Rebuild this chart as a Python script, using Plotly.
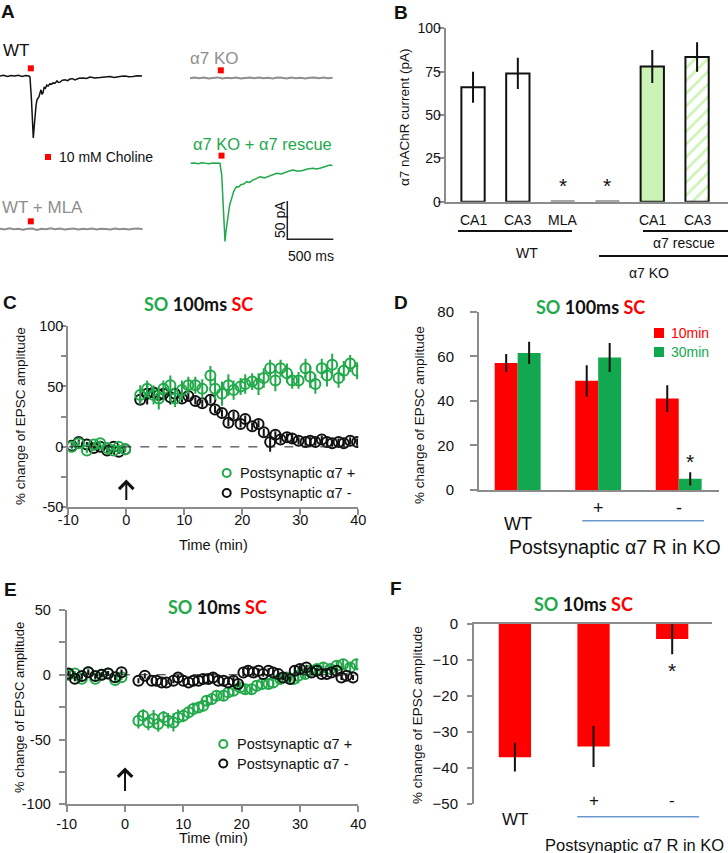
import plotly.graph_objects as go

W, H = 728, 853
def PX(x): return x / W
def PY(y): return 1 - y / H

SANS = "Liberation Sans, Arial, sans-serif"
TFONT = "Lato, 'Open Sans', sans-serif"
BLACK = "#111111"
AX = "#8c8c8c"
TRACE_GRAY = "#8e8e8e"
GREEN_A = "#22a84a"
GREEN_C = "#22aa4a"
GREEN_D = "#12a84f"
RED = "#ff0000"
LIGHT_GREEN = "#ccf3b6"
BLUE_LINE = "#6a98cc"

# ---------------- Panel A : current traces (ms, pA) ----------------
WT_T = [0, 40, 80, 120, 160, 200, 240, 280, 315, 326, 342, 362, 372, 380, 392, 402, 412, 424,
        435, 446, 456, 467, 480, 494, 508, 522, 544, 560, 576, 598, 620, 636, 652, 680, 707, 734,
        761, 788, 815, 858, 902, 940, 978, 1030, 1087, 1140, 1196, 1240, 1272, 1320, 1359, 1400,
        1446, 1490, 1544]
WT_I = [0, 1, -0.5, 0.5, 0, 1, -0.5, 0.5, 0, -1.5, -31, -81, -66, -51, -38, -31, -29, -27,
        -22, -18, -24, -22, -15, -16, -12, -13, -10, -11, -9, -9.5, -6.5, -8.5, -8, -5.5, -5, -6,
        -4, -3.5, -5, -3, -2.6, -3.2, -1.3, -2.5, -2, -1.2, -0.7, -1.8, -0.9, -0.3, 0, -1,
        -0.7, 0.3, 0]
RESCUE_T = [0, 40, 80, 120, 160, 200, 240, 280, 318, 337, 353, 373, 382, 391, 400, 409, 417, 424,
            435, 446, 456, 467, 483, 500, 522, 544, 576, 609, 640, 674, 714, 753, 800, 848, 890, 935,
            985, 1033, 1070, 1112, 1165, 1217, 1270, 1329, 1370, 1413, 1460, 1514, 1540]
RESCUE_I = [0, 0.5, -0.5, 0.8, 0, -0.6, 0.4, -0.3, 0, -15, -48, -102, -90, -81, -72, -65, -60, -54,
            -50, -44, -40, -37, -33, -30.5, -31, -28, -27, -24, -25, -22, -20, -17.5, -19, -16.6, -15, -13,
            -14, -11.4, -10, -8.7, -10.5, -9.4, -7.5, -6.5, -7.5, -6.1, -4, -2.2, -3]
FLAT_T = [0, 50, 100, 150, 200, 250, 300, 350, 400, 450, 500, 550, 600, 650, 700, 750,
          800, 850, 900, 950, 1000, 1050, 1100, 1150, 1200, 1250, 1300, 1350, 1400, 1450, 1500, 1550]
MLA_I = [0.5, -0.5, 0.8, -0.3, 0.4, -0.8, 0.3, 0.6, -1.2, 0.2, -0.4, 0.9, -0.2, 0.5, -0.7, 0.3,
         0.6, -0.5, 0.2, -0.3, 0.7, -0.6, 0.4, 0.1, -0.5, 0.6, -0.2, 0.4, -0.6, 0.3, 0.5, -0.4]
KO_I = [-0.4, 0.6, -0.2, 0.5, -0.6, 0.3, 0.8, -0.5, 0.4, -0.3, 0.6, -0.7, 0.2, 0.5, -0.4, 0.7,
        -0.3, 0.4, -0.6, 0.5, 0.2, -0.5, 0.6, -0.2, 0.4, -0.7, 0.3, 0.5, -0.4, 0.6, -0.3, 0.2]
STIM_MS = 335
STIM_OFFSET_PA = 10
SCALE_MS = 500
SCALE_PA = 50

# ---------------- Panel B ----------------
B_CATS = ["CA1", "CA3", "MLA", "", "CA1", "CA3"]
B_VALUES = [66, 74, 0.6, 0.6, 78, 83.5]
B_ERR = [9, 9, 0, 0, 9.5, 8.5]

# ---------------- Panel C (100 ms) ----------------
C_BASE_T = [-9.4, -8.2, -6.8, -5.6, -4.5, -3.3, -2.2, -1.3, -0.2]
C_POS_BASE = [0, 3, -3, 2, 3, -1, -3, 0, -2]
C_NEG_BASE = [1, 4, 2, -1, 0, -3, 0, -4, -2]
C_POST_T = [2.4, 3.6, 4.7, 5.6, 6.4, 7.6, 8.4, 9.6, 10.7, 11.9, 13.1, 14.5, 15.3, 16.5, 17.6, 18.5,
            19.7, 20.5, 21.7, 22.8, 23.7, 24.8, 25.7, 26.6, 27.7, 28.6, 29.7, 30.9, 31.7, 32.6,
            33.7, 34.6, 35.5, 36.6, 37.5, 38.6, 39.8]
C_POS_POST = [43, 48, 43, 40, 48, 51, 40, 47, 51, 51, 48, 59, 48, 44, 51, 47, 50, 52, 54, 52,
              57, 65, 55, 65, 61, 55, 55, 65, 58, 52, 65, 59, 68, 57, 63, 69, 63]
C_POS_ERR = [8, 7, 8, 9, 7, 8, 7, 8, 7, 7, 8, 8, 9, 10, 9, 8, 7, 8, 7, 9, 8, 7, 9, 7, 8, 7, 7,
             8, 9, 8, 8, 9, 9, 8, 8, 7, 7]
C_NEG_POST = [39, 44, 45, 43, 44, 41, 44, 40, 42, 38, 36, 39, 31, 28, 20, 26, 19, 23, 17, 19,
              12, 4, 10, 6, 8, 7, 5, 4, 5, 4, 6, 4, 3, 4, 3, 5, 4]
C_NEG_ERR = [3, 9, 3, 3, 3, 6, 3, 3, 3, 3, 3, 3, 3, 3, 3, 3, 3, 3, 3, 3, 3, 8, 3, 3, 3, 4, 3,
             3, 3, 3, 3, 3, 3, 3, 3, 3, 3]

# ---------------- Panel D ----------------
D_GROUPS = ["WT", "+", "-"]
D_10 = [57, 49, 41]
D_10_ERR = [4, 7, 6]
D_30 = [61.5, 59.5, 5]
D_30_ERR = [5, 6.5, 3]

# ---------------- Panel E (10 ms) ----------------
E_BASE_T = [-9.7, -8.6, -7.4, -6.3, -5.1, -4.0, -2.9, -1.7, -0.6]
E_POS_BASE = [0, 1, -3, 2, -3, 0, 1, -4, -2]
E_NEG_BASE = [1, -3, -1, 2, -1, 0, 1, -2, 2]
E_POS_T = [2.3, 3.1, 4.0, 4.9, 5.7, 6.6, 7.4, 8.3, 9.1, 10.0, 10.9, 11.7, 12.6, 13.4, 14.0, 14.9,
           15.7, 16.9, 17.7, 18.6, 19.7, 20.6, 21.7, 22.6, 23.5, 24.6, 25.4, 26.6, 27.7, 28.9,
           29.7, 30.9, 31.7, 32.9, 34.0, 35.2, 36.3, 37.4, 38.6, 39.7]
E_POS_POST = [-35.5, -31.6, -36.8, -34.2, -38, -32.9, -35.5, -36.8, -32.9, -31.6, -29, -26.5,
              -25.2, -23.9, -20, -18.8, -16.2, -16.2, -13.6, -12.3, -9.8, -11.1, -11.1, -8.5,
              -7.2, -7.2, -5.9, -3.3, -2.1, -3.3, -0.8, 0.5, 3.1, 4.4, 5.7, 4.4, 6.9, 8.2, 5.7, 8.2]
E_POS_ERR = [6, 5, 6, 7, 6, 5, 6, 7, 6, 5, 5, 5, 4, 4, 4, 4, 4, 4, 4, 4, 4, 4, 4, 4, 4, 4, 4,
             4, 4, 4, 6, 4, 4, 4, 4, 4, 4, 4, 4, 4]
E_NEG_T = [2.3, 3.4, 4.6, 5.4, 6.3, 7.1, 8.3, 9.1, 10.0, 10.9, 11.7, 12.6, 13.4, 14.3, 15.1,
           16.0, 16.9, 17.7, 18.6, 19.4, 20.3, 21.1, 22.0, 22.9, 23.7, 24.6, 25.4, 26.3, 27.1,
           28.3, 29.1, 30.0, 31.1, 32.0, 32.9, 33.7, 34.6, 35.4, 36.3, 37.1, 38.0, 39.1]
E_NEG_POST = [-4.6, -0.8, -4.6, -4.6, -5.9, -5.9, -4.6, -2.1, -4.6, -5.9, -4.6, -4.6, -3.3, -3.3,
              -2.1, -4.6, -4.6, -5.9, -4.6, -7.2, 1.8, 3.1, 1.8, 3.1, 0.5, 3.1, 1.8, 0.5, -2.1,
              -3.3, 3.1, 4.4, 5.7, 1.8, 3.1, 0.5, 0.5, 1.8, 3.1, -2.1, -0.8, -2.1]
E_NEG_ERR = [2, 2, 2, 2, 2, 2, 2, 2, 2, 2, 2, 2, 3, 4, 4, 2, 2, 2, 3, 2, 3, 3, 3, 2, 2, 2, 2,
             2, 2, 2, 3, 3, 2, 2, 2, 2, 2, 2, 2, 2, 2, 2]

# ---------------- Panel F ----------------
F_GROUPS = ["WT", "+", "-"]
F_VALUES = [-37, -34, -4.2]
F_ERR = [4, 5.7, 4.2]

fig = go.Figure()

# ---- Panel A
MSPX = 500 / 46
PAPX = 50 / 38.3
def ax_x(px): return px * MSPX
def ax_y(py): return -py * PAPX

ORIG = {"WT": (0, 76), "MLA": (0, 229), "KO": (190, 78), "RES": (190.7, 163.3)}

def add_trace_a(key, ts, vals, color, width):
    ox, oy = ORIG[key]
    fig.add_trace(go.Scatter(x=[ax_x(ox) + t for t in ts], y=[ax_y(oy) + v for v in vals],
                             mode="lines", line=dict(color=color, width=width),
                             xaxis="x", yaxis="y", hoverinfo="skip"))

add_trace_a("WT", WT_T, WT_I, BLACK, 1.5)
add_trace_a("MLA", FLAT_T, MLA_I, TRACE_GRAY, 2)
add_trace_a("KO", FLAT_T, KO_I, TRACE_GRAY, 2)
add_trace_a("RES", RESCUE_T, RESCUE_I, GREEN_A, 1.5)

stim_x = [ax_x(ORIG[k][0]) + STIM_MS for k in ["WT", "MLA", "KO", "RES"]] + [ax_x(48)]
stim_y = [ax_y(ORIG[k][1]) + STIM_OFFSET_PA for k in ["WT", "MLA", "KO", "RES"]] + [ax_y(157)]
fig.add_trace(go.Scatter(x=stim_x, y=stim_y, mode="markers",
                         marker=dict(symbol="square", size=6, color=RED),
                         xaxis="x", yaxis="y", hoverinfo="skip"))
cx, cy = ax_x(287.3), ax_y(239.3)
fig.add_trace(go.Scatter(x=[cx, cx, cx + SCALE_MS], y=[cy + SCALE_PA, cy, cy], mode="lines",
                         line=dict(color="#222222", width=1.5), xaxis="x", yaxis="y",
                         hoverinfo="skip"))

# ---- Panel B
fills = ["white", "white", "#9a9a9a", "#9a9a9a", LIGHT_GREEN, LIGHT_GREEN]
lcols = [BLACK, BLACK, "#9a9a9a", "#9a9a9a", BLACK, BLACK]
lwid = [2, 2, 1, 1, 2, 2]
shapes_p = ["", "/", "", "", "", "/"]
fgc = [BLACK, "#8a8a8a", BLACK, BLACK, BLACK, "#111111"]
fig.add_trace(go.Bar(x=list(range(len(B_CATS))), y=B_VALUES, width=0.52,
                     marker=dict(color=fills, line=dict(color=lcols, width=lwid),
                                 pattern=dict(shape=shapes_p, fgcolor=fgc, bgcolor=fills,
                                              size=[10, 12, 10, 10, 10, 9],
                                              solidity=[0.2, 0.18, 0.2, 0.2, 0.2, 0.3])),
                     error_y=dict(type="data", array=B_ERR, color=BLACK, thickness=2, width=0),
                     xaxis="x2", yaxis="y2", hoverinfo="skip"))

# ---- Panel C (black first, green on top)
fig.add_trace(go.Scatter(x=C_BASE_T + C_POST_T, y=C_NEG_BASE + C_NEG_POST,
                         error_y=dict(type="data", array=[2] * len(C_BASE_T) + C_NEG_ERR,
                                      color=BLACK, thickness=2, width=0),
                         mode="markers",
                         marker=dict(symbol="circle-open", size=10, color=BLACK, line=dict(width=2)),
                         xaxis="x3", yaxis="y3", hoverinfo="skip"))
fig.add_trace(go.Scatter(x=C_BASE_T + C_POST_T, y=C_POS_BASE + C_POS_POST,
                         error_y=dict(type="data", array=[2] * len(C_BASE_T) + C_POS_ERR,
                                      color=GREEN_C, thickness=2, width=0),
                         mode="markers",
                         marker=dict(symbol="circle-open", size=10, color=GREEN_C, line=dict(width=2)),
                         xaxis="x3", yaxis="y3", hoverinfo="skip"))

# ---- Panel D
BW = 0.285
fig.add_trace(go.Bar(x=list(range(3)), y=D_10, width=BW, offset=-BW,
                     marker=dict(color=RED, line=dict(width=0)),
                     error_y=dict(type="data", array=D_10_ERR, color=BLACK, thickness=2, width=0),
                     xaxis="x4", yaxis="y4", hoverinfo="skip"))
fig.add_trace(go.Bar(x=list(range(3)), y=D_30, width=BW, offset=0,
                     marker=dict(color=GREEN_D, line=dict(width=0)),
                     error_y=dict(type="data", array=D_30_ERR, color=BLACK, thickness=2, width=0),
                     xaxis="x4", yaxis="y4", hoverinfo="skip"))

# ---- Panel E (green first, black on top)
fig.add_trace(go.Scatter(x=E_BASE_T + E_POS_T, y=E_POS_BASE + E_POS_POST,
                         error_y=dict(type="data", array=[2] * len(E_BASE_T) + E_POS_ERR,
                                      color=GREEN_C, thickness=2, width=0),
                         mode="markers",
                         marker=dict(symbol="circle-open", size=10, color=GREEN_C, line=dict(width=2)),
                         xaxis="x5", yaxis="y5", hoverinfo="skip"))
fig.add_trace(go.Scatter(x=E_BASE_T + E_NEG_T, y=E_NEG_BASE + E_NEG_POST,
                         error_y=dict(type="data", array=[2] * len(E_BASE_T) + E_NEG_ERR,
                                      color=BLACK, thickness=2, width=0),
                         mode="markers",
                         marker=dict(symbol="circle-open", size=10, color=BLACK, line=dict(width=2)),
                         xaxis="x5", yaxis="y5", hoverinfo="skip"))

# ---- Panel F
fig.add_trace(go.Bar(x=list(range(3)), y=F_VALUES, width=0.41,
                     marker=dict(color=RED, line=dict(width=0)),
                     error_y=dict(type="data", array=F_ERR, color=BLACK, thickness=2, width=0),
                     xaxis="x6", yaxis="y6", hoverinfo="skip"))

# ---------------- axes ----------------
def yax(domain, rng, anchor, tickvals, ticktext=None, size=14, standoff=2, ticklen=6):
    d = dict(domain=domain, range=rng, anchor=anchor, showline=True, linecolor=AX, linewidth=2,
             ticks="outside", ticklen=ticklen, tickwidth=2, tickcolor=AX, tickvals=tickvals,
             tickfont=dict(family=SANS, size=size, color=BLACK), showgrid=False, zeroline=False,
             fixedrange=True, ticklabelstandoff=standoff, automargin=False)
    if ticktext is not None:
        d["ticktext"] = ticktext
    return d

def xcat(domain, rng, anchor, side="bottom"):
    return dict(domain=domain, range=rng, anchor=anchor, showline=True, linecolor=AX, linewidth=2,
                ticks="", showticklabels=False, showgrid=False, zeroline=False, fixedrange=True,
                side=side, automargin=False)

def xtime(domain, anchor, standoff):
    return dict(domain=domain, range=[-10, 40], anchor=anchor, showline=True, linecolor=AX,
                linewidth=2, ticks="outside", ticklen=6, tickwidth=2, tickcolor=AX,
                tickvals=[-10, 0, 10, 20, 30, 40], ticktext=["-10", "0", "10", "20", "30", "40"],
                tickfont=dict(family=SANS, size=14.5, color=BLACK), showgrid=False, zeroline=False,
                fixedrange=True, ticklabelstandoff=standoff, automargin=False)

layout = dict(
    template="none",
    width=W, height=H, margin=dict(l=0, r=0, t=0, b=0, pad=0, autoexpand=False), showlegend=False,
    paper_bgcolor="white", plot_bgcolor="white", hovermode=False, barmode="overlay",
    font=dict(family=SANS, color=BLACK),
    xaxis=dict(domain=[0, 0.5], range=[0, ax_x(364)], visible=False, fixedrange=True, anchor="y",
               automargin=False),
    yaxis=dict(domain=[PY(280), 1], range=[ax_y(280), 0], visible=False, fixedrange=True, anchor="x",
               automargin=False),
    xaxis2=xcat([PX(445.7), 1.0], [-0.61, 5.69], "y2"),
    yaxis2=yax([PY(201.7), PY(28.3)], [0, 100], "x2", [0, 25, 50, 75, 100], size=14, standoff=-6),
    xaxis3=xtime([PX(68.3), PX(358.3)], "y3", -8),
    yaxis3=yax([PY(507.3), PY(326)], [-50, 100], "x3", [-50, -25, 0, 25, 50, 75, 100],
               ["-50", "", "0", "", "50", "", "100"], size=14.5, standoff=-5, ticklen=5),
    xaxis4=xcat([PX(479), PX(719)], [-0.48, 2.5], "y4"),
    yaxis4=yax([PY(490), PY(311.7)], [0, 80], "x4", [0, 20, 40, 60, 80], size=15, standoff=13, ticklen=7),
    xaxis5=xtime([PX(66.7), PX(358.3)], "y5", -1),
    yaxis5=yax([PY(804.3), PY(610)], [-100, 50], "x5", [-100, -75, -50, -25, 0, 25, 50],
               ["-100", "", "-50", "", "0", "", "50"], size=14.5, standoff=5, ticklen=6),
    xaxis6=xcat([PX(474), PX(712.3)], [-0.52, 2.51], "y6", side="top"),
    yaxis6=yax([PY(804), PY(624)], [-50, 0], "x6", [-50, -40, -30, -20, -10, 0], size=15,
               standoff=6, ticklen=5),
)

ann = []
def T(text, x, y, size=14, color=BLACK, xanchor="center", yanchor="middle", angle=0,
      family=SANS, xref="paper", yref="paper"):
    ann.append(dict(text=text, x=x, y=y, xref=xref, yref=yref, showarrow=False,
                    xanchor=xanchor, yanchor=yanchor, textangle=angle,
                    font=dict(family=family, size=size, color=color)))

# panel letters
for letter, x, y in [("A", 8, 11), ("B", 401, 12), ("C", 10, 302), ("D", 401, 302),
                     ("E", 10, 589), ("F", 396, 588)]:
    T("<b>%s</b>" % letter, PX(x), PY(y), size=19)

# Panel A labels
T("WT", PX(1), PY(51), 17, BLACK, xanchor="left")
T("WT + MLA", PX(0), PY(207), 17, TRACE_GRAY, xanchor="left")
T("α7 KO", PX(188), PY(59), 17, TRACE_GRAY, xanchor="left")
T("α7 KO + α7 rescue", PX(191), PY(143.5), 16.5, GREEN_A, xanchor="left")
T("10 mM Choline", PX(57), PY(157.5), 14, BLACK, xanchor="left")
T("50 pA", PX(280), PY(220), 14, BLACK, angle=-90)
T("500 ms", PX(311), PY(256), 14, BLACK)

# Panel B labels
for i, c in enumerate(B_CATS):
    if c:
        T(c, i, PY(220), 14, xref="x2")
for i in (2, 3):
    T("*", i, B_VALUES[i] + 9, 21, xref="x2", yref="y2")
T("α7 nAChR current (pA)", PX(404), PY(117), 13.5, angle=-90)
T("WT", PX(527), PY(253), 14)
T("α7 rescue", PX(684), PY(243), 14)
T("α7 KO", PX(649), PY(273), 14)

# Titles
def title(mid, x, y):
    T("<b><span style='color:%s'>SO</span> %s <span style='color:%s'>SC</span></b>"
      % (GREEN_C, mid, RED), PX(x), PY(y), 18, BLACK, family=TFONT)
title("100ms", 199, 304)
title("100ms", 590.5, 306.5)
title("10ms", 217.5, 607)
title("10ms", 583, 604)

# Panel C texts
T("% change of EPSC amplitude", PX(20), PY(416), 13.5, angle=-90)
T("Time (min)", PX(213), PY(545), 14.5)
T("Postsynaptic α7 +", PX(238), PY(473), 14.5, xanchor="left")
T("Postsynaptic α7 -", PX(238), PY(493), 14.5, xanchor="left")

# Panel D texts
T("% change of EPSC amplitude", PX(419), PY(415), 13.5, angle=-90)
T(D_GROUPS[0], 0, PY(524.3), 18, xref="x4")
for i in (1, 2):
    T(D_GROUPS[i], i, PY(507.5), 18, xref="x4")
T("Postsynaptic α7 R in KO", PX(614.8), PY(546.7), 19.5)
T("10min", PX(669), PY(333), 14, RED, xanchor="left")
T("30min", PX(669), PY(352), 14, GREEN_D, xanchor="left")
T("*", 2 + BW / 2, D_30[2] + D_30_ERR[2] + 5, 21, xref="x4", yref="y4")

# Panel E texts
T("% change of EPSC amplitude", PX(19), PY(708), 13, angle=-90)
T("Time (min)", PX(213), PY(838), 14.5)
T("Postsynaptic α7 +", PX(235), PY(744), 14.5, xanchor="left")
T("Postsynaptic α7 -", PX(235), PY(763.5), 14.5, xanchor="left")

# Panel F texts
T("% change of EPSC amplitude", PX(417), PY(715), 13.5, angle=-90)
T(F_GROUPS[0], 0, PY(819.3), 17, xref="x6")
for i in (1, 2):
    T(F_GROUPS[i], i, PY(800), 17, xref="x6")
T("Postsynaptic α7 R in KO", PX(634), PY(845), 16.5)
T("*", 2, F_VALUES[2] - F_ERR[2] - 4.5, 21, xref="x6", yref="y6")

# arrows
for xr, yr, yhead, ay in [("x3", "y3", -27, 22), ("x5", "y5", -71.5, 25)]:
    ann.append(dict(x=0, y=yhead, xref=xr, yref=yr, ax=0, ay=ay, text="", showarrow=True,
                    arrowhead=4, arrowsize=1.4, arrowwidth=2, arrowcolor=BLACK))

layout["annotations"] = ann

shapes = []
def hline(x0, x1, y, color=BLACK, width=2, xref="paper", yref="paper", dash="solid"):
    shapes.append(dict(type="line", xref=xref, yref=yref, x0=x0, x1=x1, y0=y, y1=y,
                       line=dict(color=color, width=width, dash=dash)))

# B grouping lines
hline(PX(458), PX(572), PY(231))
hline(PX(643), PX(728), PY(231))
hline(PX(599), PX(728), PY(256))
# D / F blue lines
hline(PX(582.3), PX(704), PY(520.7), BLUE_LINE, 1.5)
hline(PX(577.3), PX(699), PY(816.7), BLUE_LINE, 1.5)
# zero dashed lines
hline(-10, 40, 0, "#222222", 1, "x3", "y3", "dash")
hline(-10, 40, 0, "#222222", 1, "x5", "y5", "dash")

def legend_circle(x, y, color):
    shapes.append(dict(type="circle", xref="paper", yref="paper", xsizemode="pixel",
                       ysizemode="pixel", xanchor=PX(x), yanchor=PY(y), x0=-4, x1=4, y0=-4, y1=4,
                       line=dict(color=color, width=2), fillcolor="rgba(0,0,0,0)"))
def legend_square(x, y, color):
    shapes.append(dict(type="rect", xref="paper", yref="paper", xsizemode="pixel",
                       ysizemode="pixel", xanchor=PX(x), yanchor=PY(y), x0=-5, x1=5, y0=-5, y1=5,
                       line=dict(width=0), fillcolor=color))

legend_circle(226.7, 473, GREEN_C)
legend_circle(226.7, 493, BLACK)
legend_circle(223.3, 744, GREEN_C)
legend_circle(223.3, 763.5, BLACK)
legend_square(659, 333, RED)
legend_square(659, 352, GREEN_D)

layout["shapes"] = shapes
fig.update_layout(**layout)
fig.write_html("out.html", config={"displayModeBar": False, "staticPlot": True},
               post_script="document.body.style.margin='0px';document.body.style.padding='0px';"
                           "document.body.style.overflow='hidden';")
